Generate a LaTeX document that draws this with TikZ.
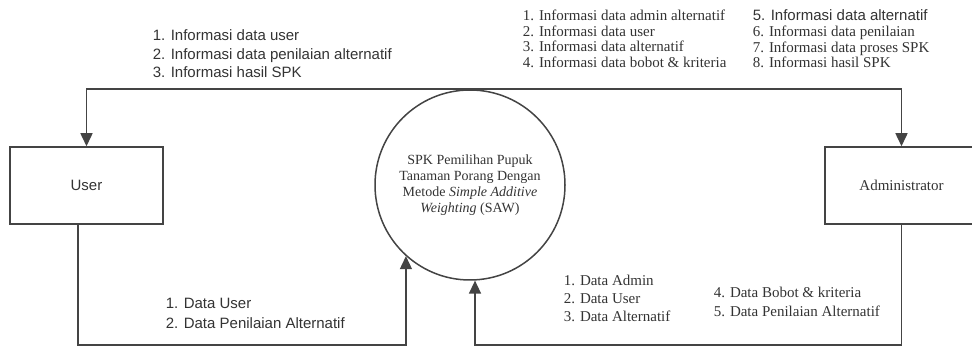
\documentclass[tikz,border=0pt]{standalone}
\usepackage{fontspec}
\setmainfont{Liberation Serif}
\setsansfont{Liberation Sans}
\usetikzlibrary{arrows.meta}
\definecolor{Line}{HTML}{444444}
\definecolor{Ink}{HTML}{333333}

\begin{document}
\begin{tikzpicture}[x=1pt,y=-1pt,>={Triangle[length=13pt,width=12pt]},line width=1.5pt,
box/.style={draw=Line,minimum width=153pt,minimum height=77pt,text=Ink},
lbl/.style={anchor=north west,inner sep=0pt,align=left,text=Ink},
sf/.style={lbl,font=\sffamily\fontsize{15}{#1}\selectfont},
rm/.style={lbl,font=\fontsize{15}{#1}\selectfont}]
\def\r{95} % circle radius
\clip (0,0) rectangle (972,347);
\node[circle,draw=Line,minimum size=2*\r,inner sep=0pt,align=center,text=Ink,
  font=\fontsize{14}{16}\selectfont] (P) at (470,185)
  {SPK Pemilihan Pupuk\\Tanaman Porang Dengan\\Metode \textit{Simple Additive}\\\textit{Weighting} (SAW)};
\node[box,font=\sffamily\fontsize{15}{18}\selectfont] (U) at (86.5,185.5) {User};
\node[box,font=\fontsize{15}{18}\selectfont] (A) at (901.5,185.5) {Administrator};
\coordinate (ub) at (78,345);
\coordinate (ab) at (902,345);
\draw[->,Line] (P.north) -| (U.north);
\draw[->,Line] (P.north) -| (A.north);
\draw[->,Line] (U.south -| ub) -- (ub) -| (P.228);
\draw[->,Line] (A.south) -- (A.south |- ab) -| (P.273);
\node[sf=18.5] (iu) at (152,29) {1. Informasi data user\\2. Informasi data penilaian alternatif\\3. Informasi hasil SPK};
\node[rm=15.7] (ia) at (522,9) {1. Informasi data admin alternatif\\2. Informasi data user\\3. Informasi data alternatif\\4. Informasi data bobot \& kriteria};
\node[rm=15.7] (ib) at (752,9) {\sffamily 5. Informasi data alternatif\\6. Informasi data penilaian\\7. Informasi data proses SPK\\8. Informasi hasil SPK};
\node[sf=20] (du) at (165,297) {1. Data User\\2. Data Penilaian Alternatif};
\node[rm=18] (da) at (563,274) {1. Data Admin\\2. Data User\\3. Data Alternatif};
\node[rm=19] (db) at (713,286) {4. Data Bobot \& kriteria\\5. Data Penilaian Alternatif};
\end{tikzpicture}
\end{document}
